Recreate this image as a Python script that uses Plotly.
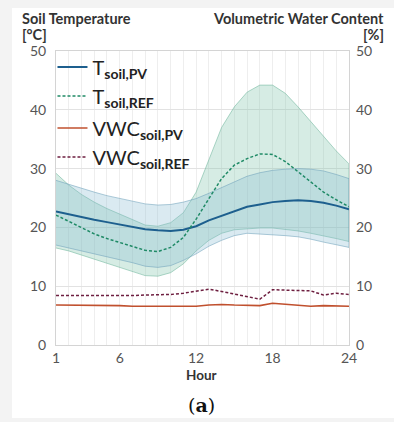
import plotly.graph_objects as go

hours = list(range(1, 25))

t_pv_mean = [22.7, 22.2, 21.7, 21.3, 20.9, 20.5, 20.1, 19.7, 19.5, 19.4, 19.6, 20.2,
             21.2, 22.0, 22.8, 23.5, 23.9, 24.3, 24.5, 24.6, 24.5, 24.2, 23.7, 23.1]
t_pv_upper = [28.0, 27.3, 26.6, 26.0, 25.4, 24.9, 24.4, 24.0, 23.8, 23.9, 24.3, 24.9,
              25.8, 26.8, 27.8, 28.7, 29.3, 29.7, 29.9, 30.0, 29.9, 29.6, 29.0, 28.3]
t_pv_lower = [17.0, 16.5, 16.0, 15.5, 15.0, 14.5, 14.0, 13.4, 13.2, 13.5, 14.4, 15.5,
              16.8, 17.8, 18.6, 19.0, 18.9, 18.7, 18.6, 18.4, 18.0, 17.5, 17.0, 16.6]

t_ref_mean = [22.1, 21.0, 19.9, 18.9, 18.1, 17.4, 16.7, 16.1, 15.9, 16.6, 18.3, 21.4,
              24.9, 28.3, 30.6, 31.7, 32.5, 32.4, 31.2, 29.5, 27.8, 26.0, 24.7, 23.5]
t_ref_upper = [29.2, 27.2, 25.6, 24.3, 23.2, 22.3, 21.3, 20.4, 20.2, 20.8, 22.5, 26.0,
               31.5, 37.0, 40.5, 43.0, 44.2, 44.2, 42.8, 40.5, 38.0, 35.5, 33.0, 30.8]
t_ref_lower = [16.5, 16.0, 15.3, 14.6, 13.9, 13.2, 12.5, 11.8, 11.7, 12.3, 13.8, 16.0,
               17.8, 19.0, 19.6, 19.8, 19.9, 19.9, 19.7, 19.4, 19.0, 18.6, 18.1, 17.6]

vwc_pv = [6.8, 6.8, 6.8, 6.7, 6.7, 6.7, 6.6, 6.6, 6.5, 6.5, 6.5, 6.6,
          6.8, 6.9, 6.8, 6.7, 6.7, 7.1, 6.9, 6.7, 6.6, 6.7, 6.7, 6.6]
vwc_ref = [8.4, 8.4, 8.3, 8.3, 8.4, 8.4, 8.4, 8.5, 8.5, 8.6, 8.8, 9.1,
           9.5, 9.1, 8.7, 8.3, 7.8, 9.4, 9.3, 9.2, 9.2, 8.5, 8.8, 8.6]

x_ticks = [1, 6, 12, 18, 24]
y_ticks = [0, 10, 20, 30, 40, 50]

FONT = "Lato"

fig = go.Figure()

# REF band
fig.add_trace(go.Scatter(
    x=hours + hours[::-1], y=t_ref_upper + t_ref_lower[::-1],
    fill="toself", fillcolor="rgba(118,192,165,0.30)",
    line=dict(color="rgba(110,180,155,0.55)", width=1),
    mode="lines", showlegend=False, hoverinfo="skip"))
# PV band
fig.add_trace(go.Scatter(
    x=hours + hours[::-1], y=t_pv_upper + t_pv_lower[::-1],
    fill="toself", fillcolor="rgba(132,185,208,0.30)",
    line=dict(color="rgba(110,160,185,0.55)", width=1),
    mode="lines", showlegend=False, hoverinfo="skip"))

fig.add_trace(go.Scatter(
    x=hours, y=t_pv_mean, mode="lines", name="T<sub><b>soil,PV</b></sub>",
    legendgroup="T", line=dict(color="#1d5f8e", width=2)))
fig.add_trace(go.Scatter(
    x=hours, y=t_ref_mean, mode="lines", name="T<sub><b>soil,REF</b></sub>",
    legendgroup="T", line=dict(color="#1f8a66", width=1.5, dash="3px,2px")))
fig.add_trace(go.Scatter(
    x=hours, y=vwc_pv, mode="lines", name="VWC<sub><b>soil,PV</b></sub>",
    legendgroup="VWC", yaxis="y2", line=dict(color="#c0502e", width=1.6)))
fig.add_trace(go.Scatter(
    x=hours, y=vwc_ref, mode="lines", name="VWC<sub><b>soil,REF</b></sub>",
    legendgroup="VWC", yaxis="y2", line=dict(color="#6e1f40", width=1.5, dash="3px,2px")))

# card background
fig.add_shape(type="rect", xref="paper", yref="paper",
              x0=-0.150, x1=1.16, y0=-0.248, y1=1.146,
              fillcolor="white", line=dict(width=0), layer="below")

axis_common = dict(showline=True, mirror=True, linecolor="#d4d4d4", linewidth=1,
                   zeroline=False, tickfont=dict(family=FONT, size=14, color="#555555"))

fig.update_layout(
    width=394, height=422,
    margin=dict(l=56, r=45, t=51, b=77),
    paper_bgcolor="#f3f3f3", plot_bgcolor="white",
    font=dict(family=FONT, color="#333333"),
    xaxis=dict(range=[1, 24], tickvals=x_ticks, showgrid=True, gridcolor="#eeeeee",
               minor=dict(tickvals=hours, showgrid=True, gridcolor="#eeeeee"),
               ticks="", **axis_common),
    yaxis=dict(range=[0, 50], tickvals=y_ticks, showgrid=True, gridcolor="#e2e2e2",
               ticks="", ticklabelstandoff=6, **axis_common),
    yaxis2=dict(range=[0, 50], tickvals=y_ticks, overlaying="y", side="right",
                showgrid=False, showline=False, zeroline=False, ticks="", ticklabelstandoff=6,
                tickfont=dict(family=FONT, size=14, color="#555555")),
    legend=dict(x=-0.012, y=1.012, xanchor="left", yanchor="top",
                bgcolor="rgba(0,0,0,0)", traceorder="grouped", tracegroupgap=3,
                font=dict(family=FONT, size=20, color="#222222")),
    showlegend=True,
)

ann = [
    dict(text="<b>Soil Temperature</b>", x=-0.123, y=1.110, xanchor="left", yanchor="middle"),
    dict(text="<b>[°C]</b>", x=-0.123, y=1.056, xanchor="left", yanchor="middle"),
    dict(text="<b>Volumetric Water Content</b>", x=1.126, y=1.110, xanchor="right", yanchor="middle"),
    dict(text="<b>[%]</b>", x=1.126, y=1.056, xanchor="right", yanchor="middle"),
]
for a in ann:
    fig.add_annotation(text=a["text"], x=a["x"], y=a["y"], xref="paper", yref="paper",
                       xanchor=a["xanchor"], yanchor=a["yanchor"], showarrow=False,
                       font=dict(family=FONT, size=14.5, color="#333333"))
fig.add_annotation(text="<b>Hour</b>", x=0.498, y=-0.102, xref="paper", yref="paper",
                   xanchor="center", yanchor="middle", showarrow=False,
                   font=dict(family=FONT, size=13.5, color="#333333"))
fig.add_annotation(text="(<b>a</b>)", x=0.498, y=-0.204, xref="paper", yref="paper",
                   xanchor="center", yanchor="middle", showarrow=False,
                   font=dict(family="DejaVu Serif", size=19, color="#111111"))

fig.write_html("out.html", config={"displayModeBar": False},
               post_script="document.body.style.margin='0px';")
